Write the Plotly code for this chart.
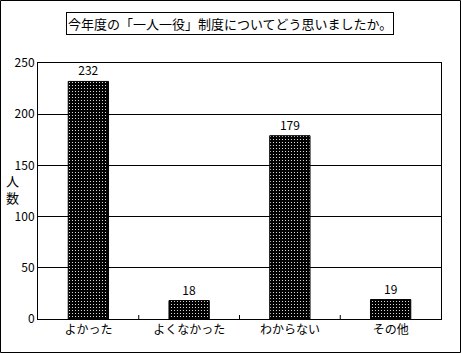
import plotly.graph_objects as go

categories = ["よかった", "よくなかった", "わからない", "その他"]
values = [232, 18, 179, 19]
y_ticks = [0, 50, 100, 150, 200, 250]
title_text = "今年度の「一人一役」制度についてどう思いましたか。"
y_label = "人<br>数"

W, H = 461, 353
L, R, T, B = 38, 20, 63, 34
pw, ph = W - L - R, H - T - B

font = "Noto Sans CJK JP, sans-serif"

fig = go.Figure(go.Bar(
    x=categories, y=values,
    width=0.4,
    text=[str(v) for v in values],
    textposition="outside",
    textfont=dict(size=12, color="black", family=font),
    cliponaxis=False,
    marker=dict(
        color="black",
        line=dict(color="black", width=1),
        pattern=dict(shape=".", fgcolor="white", bgcolor="black", size=3, solidity=0.12, fillmode="replace"),
    ),
))

fig.update_layout(
    width=W, height=H,
    margin=dict(l=L, r=R, t=T, b=B),
    paper_bgcolor="white", plot_bgcolor="white",
    showlegend=False,
    font=dict(family=font, size=12, color="black"),
    xaxis=dict(
        showline=True, linecolor="black", linewidth=1, mirror=True,
        ticks="", tickfont=dict(size=12), showgrid=False,
    ),
    yaxis=dict(
        range=[0, 250], tickvals=y_ticks,
        showline=True, linecolor="black", linewidth=1, mirror=True,
        showgrid=True, gridcolor="black", gridwidth=1,
        ticks="", tickfont=dict(size=12), zeroline=False,
    ),
    bargap=0.6,
)

fig.add_annotation(
    xref="paper", yref="paper",
    x=(230 - L) / pw, y=(H - B - 23) / ph,
    xanchor="center", yanchor="middle",
    text=title_text, showarrow=False,
    font=dict(size=13, family=font),
    bordercolor="black", borderwidth=1, borderpad=1,
    bgcolor="white",
)
fig.add_annotation(
    xref="paper", yref="paper",
    x=(12 - L) / pw, y=(H - B - 189) / ph,
    xanchor="center", yanchor="middle",
    text=y_label, showarrow=False,
    font=dict(size=13, family=font),
)
fig.add_shape(
    type="rect", xref="paper", yref="paper",
    x0=(0.5 - L) / pw, x1=(460.5 - L) / pw,
    y0=(H - B - 352.5) / ph, y1=(H - B - 0.5) / ph,
    line=dict(color="black", width=1),
)
# small category-boundary ticks
for i in range(1, len(categories)):
    fig.add_shape(
        type="line", xref="x", yref="paper",
        x0=i - 0.5, x1=i - 0.5, y0=0, y1=4 / ph,
        line=dict(color="black", width=1),
    )

fig.write_html("out.html")
